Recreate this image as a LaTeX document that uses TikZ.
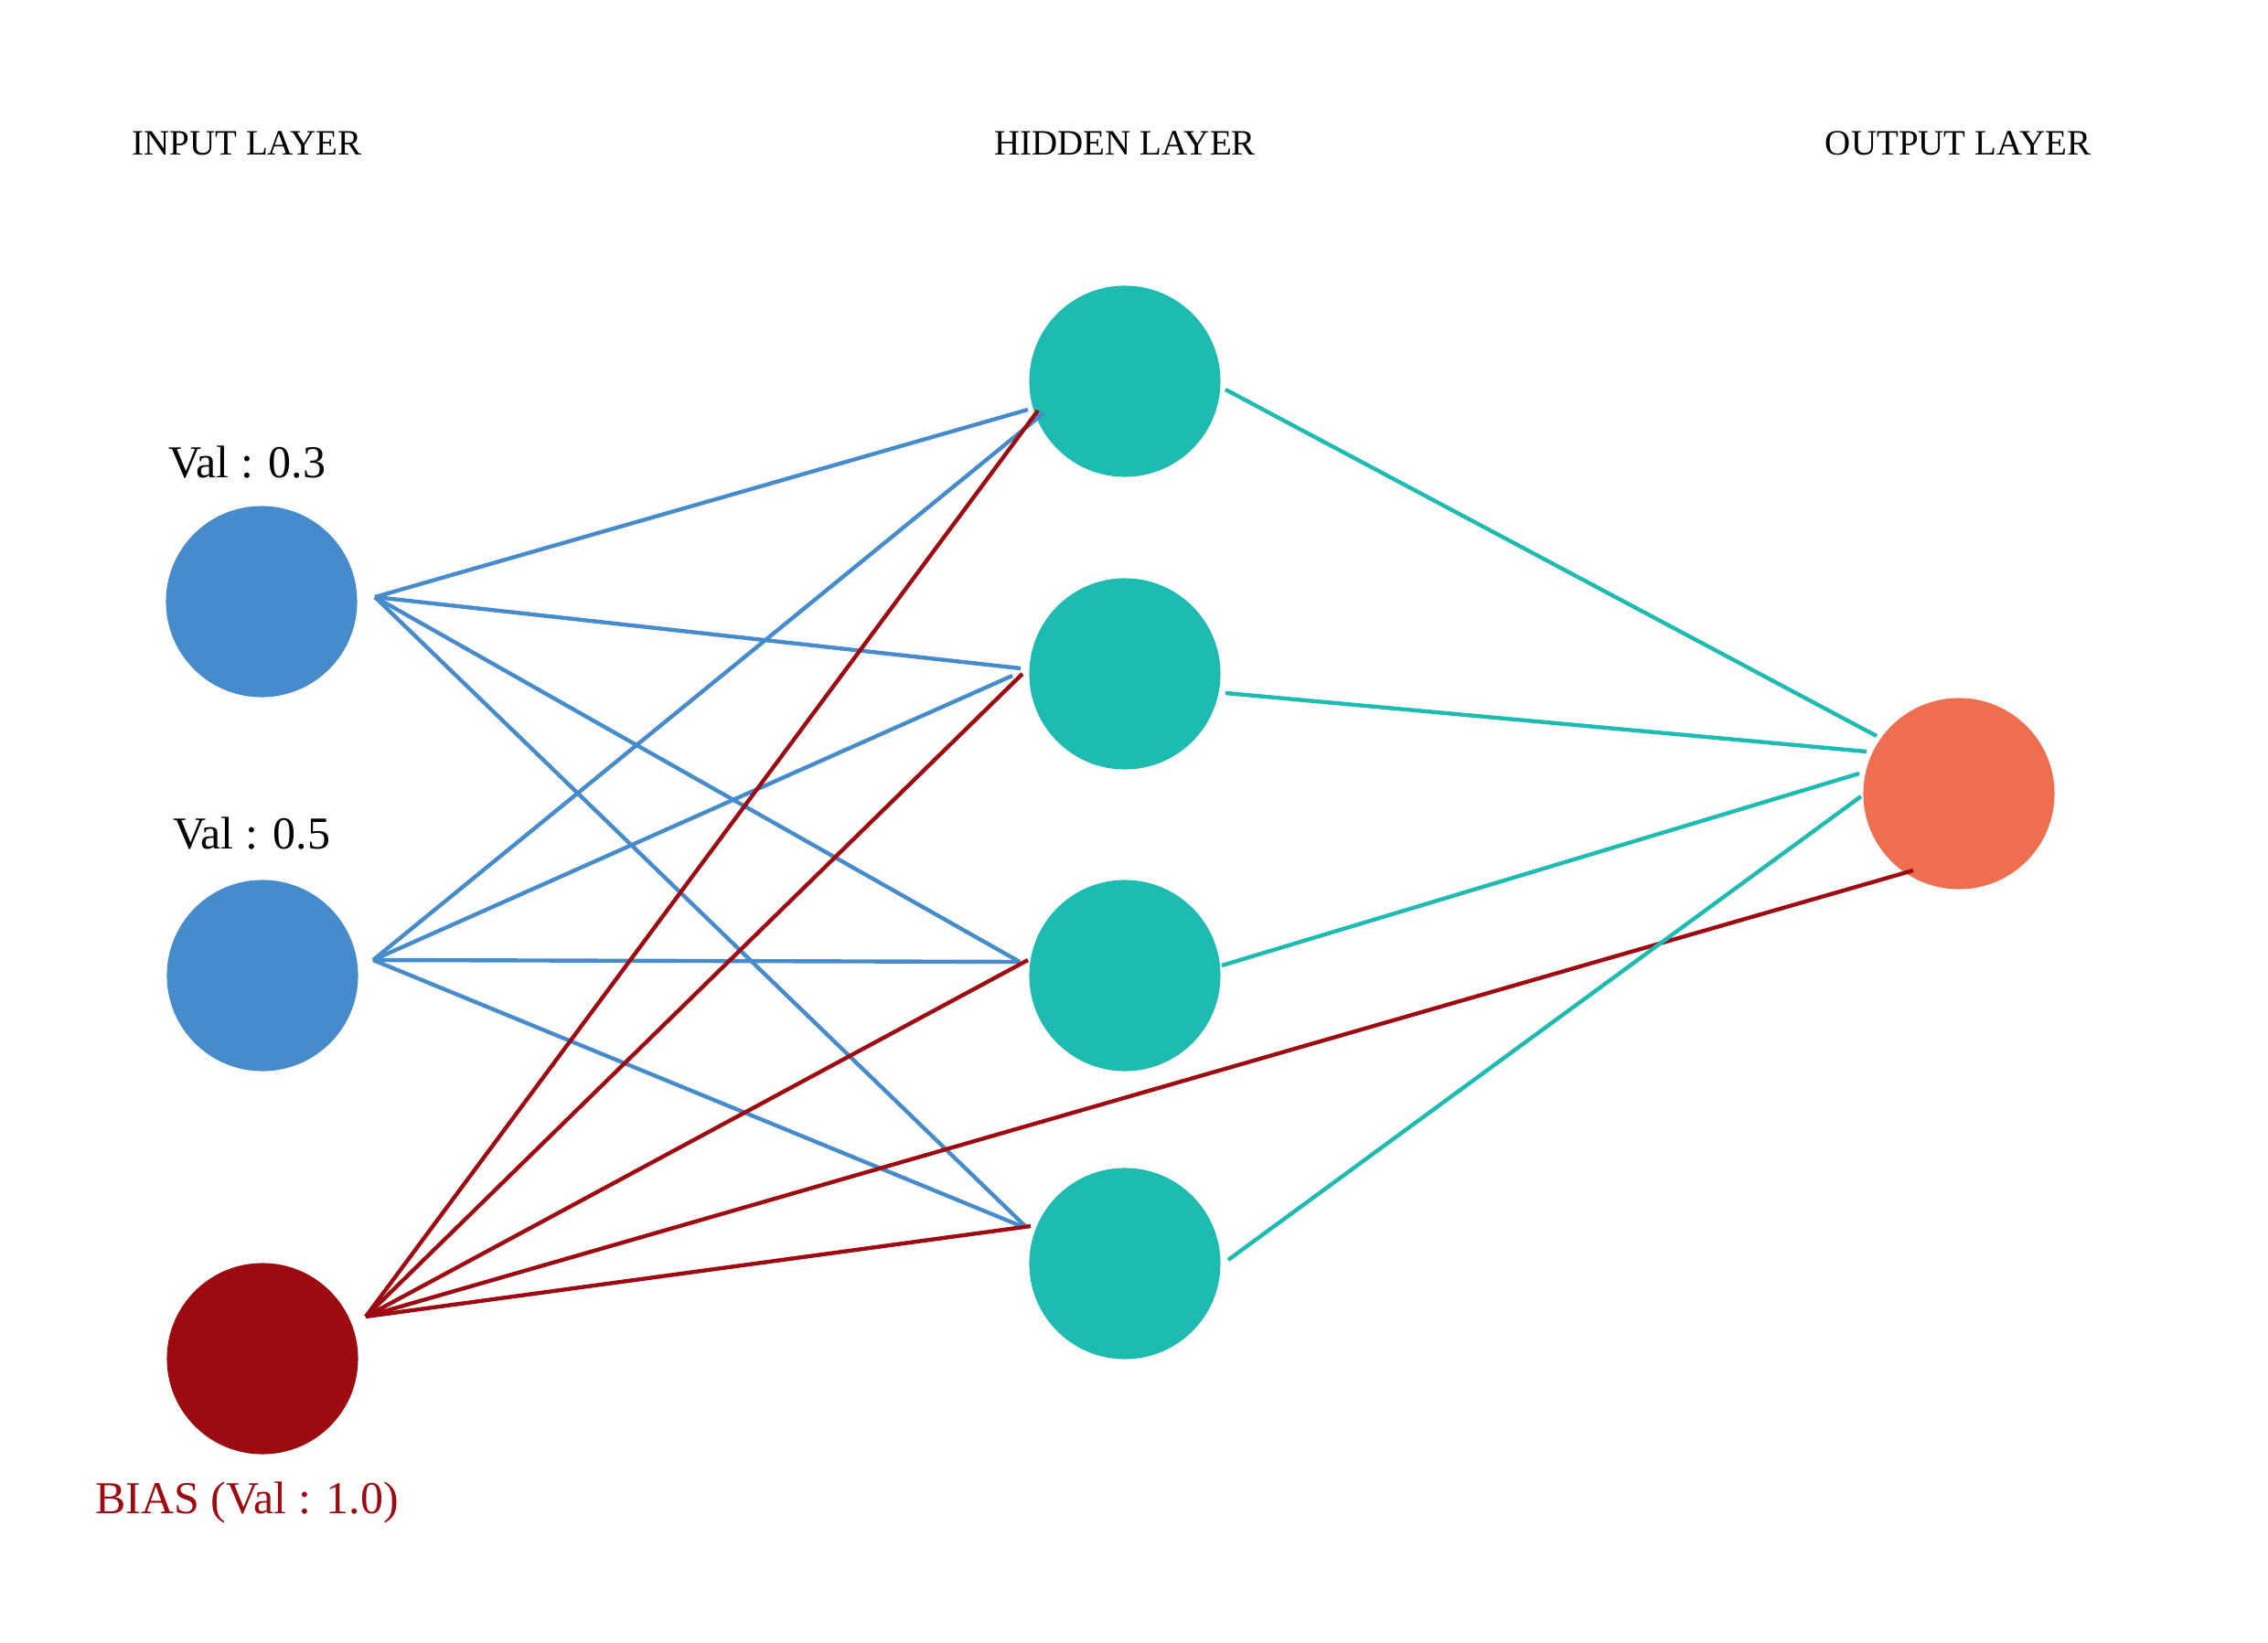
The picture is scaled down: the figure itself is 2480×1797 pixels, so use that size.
\documentclass[tikz,border=0pt]{standalone}
\usepackage{fontspec}
\setmainfont{Liberation Serif}
\definecolor{inblue}{HTML}{468BCB}
\definecolor{hidteal}{HTML}{1EBBB2}
\definecolor{biasred}{HTML}{9D0B11}
\definecolor{outorange}{HTML}{F06E50}
\begin{document}
\begin{tikzpicture}[x=0.01cm,y=-0.01cm,
  neuron/.style={circle,minimum size=2.09cm,inner sep=0pt,draw=none},
  layertitle/.style={anchor=base,font=\fontsize{11.1}{13}\selectfont},
  vallabel/.style={anchor=base,font=\fontsize{14.2}{17}\selectfont},
  wblue/.style={draw=inblue,line width=1.25pt},
  wred/.style={draw=biasred,line width=1.25pt},
  wteal/.style={draw=hidteal,line width=1.25pt}]
\useasboundingbox (0,0) rectangle (2480,1797);
% titles
\node[layertitle] (tin) at (270,170) {INPUT LAYER};
\node[layertitle] (thid) at (1230,170) {HIDDEN LAYER};
\node[layertitle] (tout) at (2141,170) {OUTPUT LAYER};
% neurons
\node[neuron,fill=inblue] (i1) at (286,658) {};
\node[neuron,fill=inblue] (i2) at (287,1067) {};
\node[neuron,fill=biasred] (b) at (287,1486) {};
\node[neuron,fill=hidteal] (h1) at (1230,417) {};
\node[neuron,fill=hidteal] (h2) at (1230,737) {};
\node[neuron,fill=hidteal] (h3) at (1230,1067) {};
\node[neuron,fill=hidteal] (h4) at (1230,1382) {};
\node[neuron,fill=outorange] (o) at (2142,868) {};
% labels
\node[vallabel] (l1) at (270,522) {Val : 0.3};
\node[vallabel] (l2) at (275,928) {Val : 0.5};
\node[vallabel,text=biasred] (lb) at (270,1655) {BIAS (Val : 1.0)};
% connector end points
\coordinate (i1o) at (410,653);
\coordinate (i2o) at (408,1050);
\coordinate (bo) at (400,1440);
\coordinate (h1a) at (1124,448);
\coordinate (h1b) at (1141,452);
\coordinate (h1c) at (1135,449);
\coordinate (h2a) at (1116,731);
\coordinate (h2b) at (1107,739);
\coordinate (h2c) at (1118,737);
\coordinate (h3a) at (1115,1052);
\coordinate (h3b) at (1115,1052);
\coordinate (h3c) at (1124,1050);
\coordinate (h4a) at (1121,1341);
\coordinate (h4b) at (1119,1342);
\coordinate (h4c) at (1127,1341);
\coordinate (h1o) at (1340,426);
\coordinate (h2o) at (1340,758);
\coordinate (h3o) at (1336,1056);
\coordinate (h4o) at (1343,1378);
\coordinate (oa) at (2052,805);
\coordinate (ob) at (2041,822);
\coordinate (oc) at (2033,846);
\coordinate (od) at (2035,871);
\coordinate (oe) at (2092,952);
% input -> hidden
\draw[wblue] (i1o) -- (h1a);
\draw[wblue] (i1o) -- (h2a);
\draw[wblue] (i1o) -- (h3a);
\draw[wblue] (i1o) -- (h4a);
\draw[wblue] (i2o) -- (h1b);
\draw[wblue] (i2o) -- (h2b);
\draw[wblue] (i2o) -- (h3b);
\draw[wblue] (i2o) -- (h4b);
% bias
\draw[wred] (bo) -- (h1c);
\draw[wred] (bo) -- (h2c);
\draw[wred] (bo) -- (h3c);
\draw[wred] (bo) -- (h4c);
\draw[wred] (bo) -- (oe);
% hidden -> output
\draw[wteal] (h1o) -- (oa);
\draw[wteal] (h2o) -- (ob);
\draw[wteal] (h3o) -- (oc);
\draw[wteal] (h4o) -- (od);
\end{tikzpicture}
\end{document}
